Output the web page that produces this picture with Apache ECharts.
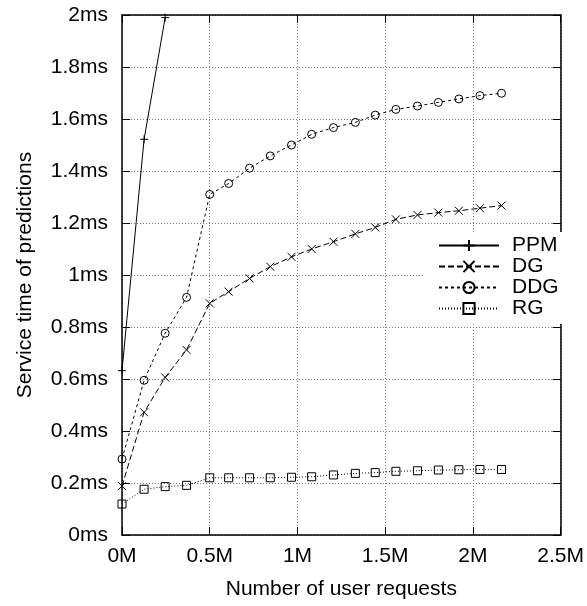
<!DOCTYPE html>
<html><head><meta charset="utf-8">
<script src="https://cdn.jsdelivr.net/npm/echarts@6/dist/echarts.min.js"></script>
<style>html,body{margin:0;padding:0;background:#fff}#c{width:587px;height:606px}</style>
</head><body><div id="c"></div>
<script>
const requests = [0, 0.126, 0.246, 0.368, 0.5, 0.608, 0.727, 0.845, 0.966, 1.081, 1.205, 1.330, 1.443, 1.561, 1.684, 1.803, 1.920, 2.040, 2.163];
const ppm = [0.632, 1.522, 1.99];
const dg  = [0.188, 0.472, 0.606, 0.712, 0.891, 0.936, 0.987, 1.032, 1.070, 1.100, 1.128, 1.158, 1.183, 1.214, 1.231, 1.240, 1.247, 1.257, 1.267];
const ddg = [0.292, 0.595, 0.776, 0.914, 1.310, 1.352, 1.411, 1.458, 1.500, 1.541, 1.567, 1.587, 1.615, 1.637, 1.650, 1.664, 1.677, 1.690, 1.699];
const rg  = [0.119, 0.176, 0.186, 0.191, 0.220, 0.220, 0.220, 0.220, 0.222, 0.224, 0.231, 0.237, 0.240, 0.245, 0.247, 0.250, 0.251, 0.252, 0.252];
const seriesNames = ['PPM', 'DG', 'DDG', 'RG'];
const xAxisTitle = 'Number of user requests';
const yAxisTitle = 'Service time of predictions';

const FONT = '"Liberation Sans", Arial, Helvetica, sans-serif';
const FS = 21;
const pairs = vals => vals.map((v, i) => [requests[i], v]);
const mk = (name, vals, symbol, dash) => ({
  name, type: 'line', data: pairs(vals), symbol, symbolSize: 8,
  lineStyle: { color: '#000', width: 1, type: dash },
  itemStyle: { color: 'rgba(0,0,0,0)', borderColor: '#000', borderWidth: 1 },
  emphasis: { disabled: true }, animation: false, z: 3
});
const frame = { show: true, onZero: false, lineStyle: { color: '#000', width: 1.5 } };
const ticks = { show: true, inside: true, length: 8, lineStyle: { color: '#000' } };
const chart = echarts.init(document.getElementById('c'), null, { renderer: 'canvas' });
chart.setOption({
  backgroundColor: '#fff',
  textStyle: { fontFamily: FONT },
  grid: { left: 122, right: 25, top: 15, bottom: 71 },
  legend: {
    orient: 'vertical', left: 425, top: 232,
    padding: [3, 5, 5, 13], itemWidth: 60, itemHeight: 14, itemGap: 0,
    backgroundColor: '#fff', data: seriesNames,
    textStyle: { fontFamily: FONT, fontSize: FS, color: '#000', padding: [0, 0, 0, 8] }
  },
  xAxis: [{
    type: 'value', min: 0, max: 2.5, interval: 0.5,
    name: xAxisTitle, nameLocation: 'middle', nameGap: 44,
    nameTextStyle: { fontFamily: FONT, fontSize: FS, color: '#000' },
    axisLine: frame, axisTick: ticks,
    axisLabel: { fontFamily: FONT, fontSize: FS, color: '#000', margin: 11, formatter: v => v + 'M' },
    splitLine: { show: true, lineStyle: { color: '#777', width: 1, type: [1, 2] } }
  }, {
    type: 'value', position: 'top', min: 0, max: 2.5, interval: 0.5,
    axisLine: frame, axisTick: ticks,
    axisLabel: { show: false }, splitLine: { show: false }
  }],
  yAxis: [{
    type: 'value', min: 0, max: 2, interval: 0.2,
    name: yAxisTitle, nameLocation: 'middle', nameGap: 86, nameRotate: 90,
    nameTextStyle: { fontFamily: FONT, fontSize: FS, color: '#000' },
    axisLine: frame, axisTick: ticks,
    axisLabel: { fontFamily: FONT, fontSize: FS, color: '#000', margin: 14,
      formatter: v => (Math.round(v * 10) / 10) + 'ms' },
    splitLine: { show: true, lineStyle: { color: '#777', width: 1, type: [1, 2] } }
  }, {
    type: 'value', position: 'right', min: 0, max: 2, interval: 0.2,
    axisLine: frame, axisTick: ticks,
    axisLabel: { show: false }, splitLine: { show: false }
  }],
  series: [
    mk('PPM', ppm, 'path://M5,0L5,10M0,5L10,5', 'solid'),
    mk('DG', dg, 'path://M0,0L10,10M10,0L0,10', [6, 3]),
    mk('DDG', ddg, 'circle', [3, 3]),
    mk('RG', rg, 'rect', [1, 2])
  ]
});
</script></body></html>
